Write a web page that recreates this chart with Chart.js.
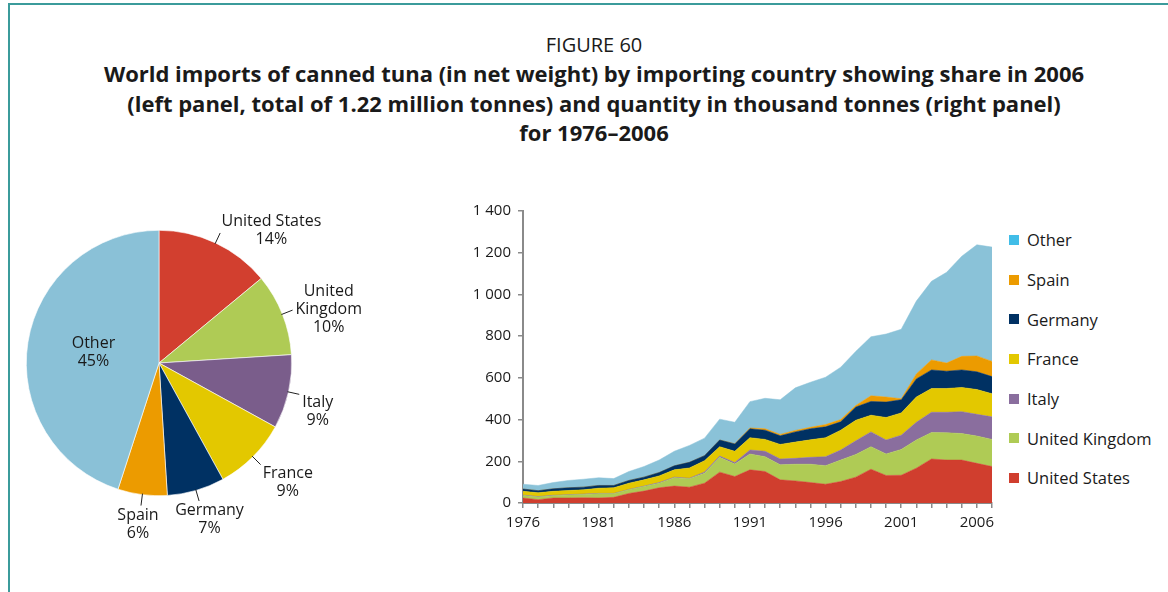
<!DOCTYPE html>
<html>
<head>
<meta charset="utf-8">
<script src="https://cdn.jsdelivr.net/npm/chart.js@4.4.1/dist/chart.umd.min.js"></script>
<style>
  html, body { margin: 0; padding: 0; background: #fff; }
  body {
    width: 1168px; height: 592px; position: relative; overflow: hidden;
    font-family: "Open Sans", "Noto Sans", sans-serif; color: #1a1a1a;
  }
  .frame-top { position: absolute; left: 8px; top: 3px; right: 0; height: 2px; background: #3b9b9b; }
  .frame-left { position: absolute; left: 8px; top: 3px; bottom: 0; width: 2px; background: #3b9b9b; }
  .title { position: absolute; left: 0; top: 30px; width: 1188px; text-align: center; }
  .title .fig { font-size: 20px; line-height: 29px; }
  .title .main { font-size: 22px; font-weight: bold; line-height: 29.5px; }
  #pieChart { position: absolute; left: 0; top: 190px; }
  #areaChart { position: absolute; left: 450px; top: 195px; }
  #legend { position: absolute; left: 1009px; top: 220px; margin: 0; padding: 0; list-style: none; }
  #legend li { height: 39.7px; display: flex; align-items: center; font-size: 16.5px; white-space: nowrap; }
  #legend li span { display: inline-block; width: 10px; height: 10px; margin-right: 8px; }
</style>
</head>
<body>
<div class="frame-top"></div>
<div class="frame-left"></div>
<div class="title">
  <div class="fig">FIGURE 60</div>
  <div class="main">World imports of canned tuna (in net weight) by importing country showing share in 2006<br>(left panel, total of 1.22 million tonnes) and quantity in thousand tonnes (right panel)<br>for 1976–2006</div>
</div>
<canvas id="pieChart" width="400" height="380"></canvas>
<canvas id="areaChart" width="552" height="345"></canvas>
<ul id="legend"></ul>

<script>
// share of 2006 imports, clockwise from 12 o'clock
const pieNames = ["United States", "United\nKingdom", "Italy", "France", "Germany", "Spain", "Other"]
const pieShares = [14, 10, 9, 9, 7, 6, 45]
const pieColors = ["#d23f2f", "#afcb55", "#7a5d8b", "#e3c800", "#003163", "#ec9b00", "#8ac1d7"]

// quantity in thousand tonnes, stacked bottom to top
const years = [1976, 1977, 1978, 1979, 1980, 1981, 1982, 1983, 1984, 1985, 1986, 1987, 1988, 1989, 1990, 1991,
  1992, 1993, 1994, 1995, 1996, 1997, 1998, 1999, 2000, 2001, 2002, 2003, 2004, 2005, 2006, 2007]
const unitedStates = [24, 16, 24, 24, 25, 24, 27, 46, 57, 73, 81, 76, 95, 148, 127, 159, 151, 111, 106, 98, 90, 103, 124, 162, 132, 133, 167, 211, 206, 206, 190, 175]
const unitedKingdom = [12, 13, 11, 14, 16, 20, 17, 17, 22, 22, 40, 40, 48, 71, 60, 76, 71, 72, 80, 88, 89, 103, 109, 108, 103, 124, 135, 127, 131, 127, 131, 130]
const italy = [2, 2, 2, 2, 2, 2, 2, 2, 2, 3, 3, 3, 6, 6, 7, 19, 26, 28, 28, 33, 43, 48, 65, 71, 67, 68, 85, 97, 98, 105, 104, 108]
const france = [18, 18, 19, 20, 20, 25, 27, 30, 30, 32, 35, 49, 54, 45, 54, 59, 57, 70, 78, 84, 91, 95, 99, 80, 108, 107, 121, 114, 114, 116, 119, 111]
const germany = [11, 10, 12, 13, 13, 13, 11, 13, 13, 16, 19, 27, 24, 32, 35, 43, 44, 41, 49, 53, 52, 40, 63, 66, 74, 63, 87, 89, 83, 84, 85, 82]
const spain = [0, 0, 0, 0, 0, 0, 0, 0, 0, 0, 0, 0, 0, 0, 1, 4, 7, 7, 7, 7, 11, 11, 8, 27, 24, 5, 24, 48, 39, 65, 76, 73]
const other = [23, 25, 30, 35, 38, 37, 33, 43, 51, 60, 70, 81, 84, 100, 103, 126, 146, 166, 204, 216, 227, 251, 259, 283, 302, 333, 349, 377, 435, 480, 533, 548]

const yTicks = [0, 200, 400, 600, 800, 1000, 1200, 1400]

const areaSeries = [
  { name: "United States", values: unitedStates, color: "#d03e2e" },
  { name: "United Kingdom", values: unitedKingdom, color: "#afcb55" },
  { name: "Italy", values: italy, color: "#8a6e9e" },
  { name: "France", values: france, color: "#e3c800" },
  { name: "Germany", values: germany, color: "#003163" },
  { name: "Spain", values: spain, color: "#ec9b00" },
  { name: "Other", values: other, color: "#8ac2d8", swatch: "#41bde8" },
]

const textColor = "#1a1a1a"
const axisColor = "#8a8a8a"
const fontFamily = '"Open Sans", "Noto Sans", sans-serif'

// labels and leader lines around the pie
const pieLabels = {
  id: "pieLabels",
  afterDatasetsDraw(chart) {
    const ctx = chart.ctx
    const arcs = chart.getDatasetMeta(0).data
    const lineH = 18
    ctx.save()
    ctx.font = "16px " + fontFamily
    ctx.fillStyle = textColor
    ctx.strokeStyle = "#222"
    ctx.lineWidth = 1
    ctx.textAlign = "center"
    ctx.textBaseline = "middle"
    arcs.forEach((arc, i) => {
      const { x, y, startAngle, endAngle, outerRadius } = arc
      const mid = (startAngle + endAngle) / 2
      const dx = Math.cos(mid)
      const dy = Math.sin(mid)
      const lines = pieNames[i].split("\n").concat(pieShares[i] + "%")
      const blockW = Math.max(...lines.map((l) => ctx.measureText(l).width))
      const blockH = lines.length * lineH
      let cx, cy
      if (pieShares[i] > 30) {
        // big slice keeps its label inside
        cx = x + dx * outerRadius * 0.5
        cy = y + dy * outerRadius * 0.5
      } else {
        ctx.beginPath()
        ctx.moveTo(x + dx * (outerRadius - 1), y + dy * (outerRadius - 1))
        ctx.lineTo(x + dx * (outerRadius + 11), y + dy * (outerRadius + 11))
        ctx.stroke()
        const ax = x + dx * (outerRadius + 14)
        const ay = y + dy * (outerRadius + 14)
        cx = dx > 0.3 ? ax + blockW / 2 : ax + dx * blockW / 2
        cy = dy < 0 ? ay : ay + blockH / 2 - 2
      }
      lines.forEach((l, k) => ctx.fillText(l, cx, cy - blockH / 2 + lineH * (k + 0.5)))
    })
    ctx.restore()
  },
}

new Chart(document.getElementById("pieChart"), {
  type: "pie",
  data: {
    labels: pieNames,
    datasets: [{ data: pieShares, backgroundColor: pieColors, borderColor: "#ffffff", borderWidth: 0.6 }],
  },
  options: {
    responsive: false,
    animation: false,
    layout: { padding: { left: 26, right: 108, top: 40, bottom: 74 } },
    plugins: { legend: { display: false }, tooltip: { enabled: false } },
  },
  plugins: [pieLabels],
})

function spaced(v) {
  return v >= 1000 ? Math.floor(v / 1000) + " " + String(v % 1000).padStart(3, "0") : String(v)
}

new Chart(document.getElementById("areaChart"), {
  type: "line",
  data: {
    labels: years,
    datasets: areaSeries.map((s, i) => ({
      label: s.name,
      data: s.values,
      backgroundColor: s.color,
      borderColor: s.color,
      borderWidth: 0.5,
      fill: i === 0 ? "origin" : "-1",
      pointRadius: 0,
      tension: 0,
    })),
  },
  options: {
    responsive: false,
    animation: false,
    layout: { padding: { top: 14, right: 10, left: 0, bottom: 0 } },
    plugins: { legend: { display: false }, tooltip: { enabled: false } },
    scales: {
      x: {
        offset: false,
        grid: { drawOnChartArea: false, drawTicks: true, tickLength: 5, color: axisColor, lineWidth: 1.5 },
        border: { color: axisColor, width: 2 },
        ticks: {
          autoSkip: false,
          maxRotation: 0,
          padding: 6,
          color: textColor,
          font: { size: 15, family: fontFamily },
          callback: (v, i) => ((years[i] - years[0]) % 5 === 0 ? String(years[i]) : ""),
        },
        afterFit: (scale) => { scale.height = 37 },
      },
      y: {
        stacked: true,
        min: yTicks[0],
        max: yTicks[yTicks.length - 1],
        afterBuildTicks: (scale) => { scale.ticks = yTicks.map((v) => ({ value: v })) },
        grid: { drawOnChartArea: false, drawTicks: true, tickLength: 5, color: axisColor, lineWidth: 1.5 },
        border: { color: axisColor, width: 2 },
        ticks: {
          padding: 7,
          color: textColor,
          font: { size: 15, family: fontFamily },
          callback: (v) => spaced(v),
        },
        afterFit: (scale) => { scale.width = 73 },
      },
    },
  },
})

// legend, top entry is the top layer
const legend = document.getElementById("legend")
areaSeries.slice().reverse().forEach((s) => {
  const li = document.createElement("li")
  const box = document.createElement("span")
  box.style.background = s.swatch || s.color
  li.appendChild(box)
  li.appendChild(document.createTextNode(s.name))
  legend.appendChild(li)
})
</script>
</body>
</html>
